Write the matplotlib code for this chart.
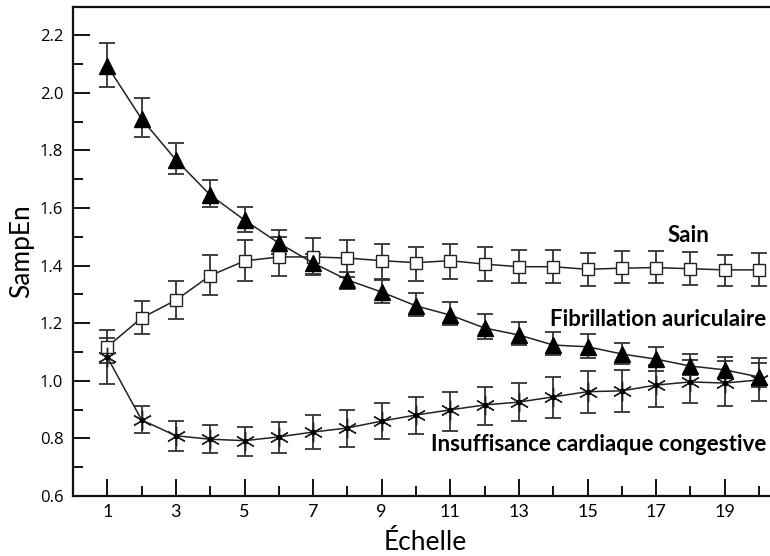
import numpy as np
import matplotlib
matplotlib.use("Agg")
import matplotlib.pyplot as plt
from matplotlib.ticker import MultipleLocator, FixedLocator

scales = np.arange(1, 21)

# Sain (healthy) - open squares
sain = [1.118, 1.218, 1.280, 1.365, 1.416, 1.430, 1.430, 1.426, 1.417, 1.410,
        1.417, 1.405, 1.396, 1.396, 1.387, 1.391, 1.393, 1.389, 1.385, 1.385]
sain_hi = [1.176, 1.277, 1.346, 1.437, 1.489, 1.499, 1.494, 1.489, 1.475, 1.465,
           1.475, 1.463, 1.454, 1.454, 1.443, 1.449, 1.449, 1.446, 1.435, 1.443]
sain_lo = [1.060, 1.162, 1.214, 1.298, 1.346, 1.364, 1.371, 1.360, 1.353, 1.346,
           1.353, 1.347, 1.338, 1.338, 1.329, 1.338, 1.338, 1.332, 1.329, 1.329]

# Fibrillation auriculaire - filled triangles
fa = [2.093, 1.909, 1.767, 1.645, 1.558, 1.478, 1.409, 1.350, 1.308, 1.260,
      1.228, 1.183, 1.159, 1.124, 1.118, 1.093, 1.075, 1.051, 1.038, 1.013]
fa_hi = [2.173, 1.982, 1.826, 1.697, 1.603, 1.524, 1.440, 1.378, 1.350, 1.305,
         1.274, 1.232, 1.204, 1.169, 1.163, 1.131, 1.117, 1.093, 1.083, 1.078]
fa_lo = [2.020, 1.847, 1.718, 1.603, 1.517, 1.440, 1.367, 1.319, 1.270, 1.225,
         1.194, 1.145, 1.124, 1.090, 1.080, 1.058, 1.034, 1.020, 1.010, 0.980]

# Insuffisance cardiaque congestive - asterisks
icc = [1.082, 0.864, 0.809, 0.797, 0.792, 0.805, 0.822, 0.836, 0.860, 0.881,
       0.899, 0.916, 0.926, 0.944, 0.962, 0.965, 0.985, 0.996, 0.992, 1.003]
icc_hi = [1.150, 0.912, 0.860, 0.847, 0.840, 0.857, 0.880, 0.898, 0.922, 0.944,
          0.962, 0.979, 0.993, 1.014, 1.033, 1.037, 1.055, 1.072, 1.069, 1.062]
icc_lo = [0.989, 0.819, 0.757, 0.749, 0.740, 0.748, 0.763, 0.770, 0.797, 0.815,
          0.826, 0.845, 0.859, 0.870, 0.888, 0.892, 0.910, 0.922, 0.913, 0.930]

fig = plt.figure(figsize=(7.7, 5.56), dpi=100)
ax = fig.add_axes([0.0948, 0.108, 0.9052, 0.8795])

def draw(y, lo, hi, **kw):
    y = np.array(y)
    err = [y - np.array(lo), np.array(hi) - y]
    ax.errorbar(scales, y, yerr=err, fmt='none', ecolor='#333333',
                elinewidth=1.3, capsize=6, capthick=1.3, zorder=2)
    ax.plot(scales, y, color='#222222', lw=1.1, zorder=3, **kw)

draw(sain, sain_lo, sain_hi, marker='s', ms=8.5, mfc='white', mec='#222222', mew=1.0)
draw(icc, icc_lo, icc_hi, marker=(6, 2, 0), ms=14, mec='#222222', mew=1.0)
ax.plot(scales, icc, ls='none', marker='o', ms=3, color='black', zorder=4)
draw(fa, fa_lo, fa_hi, marker='^', ms=12, mfc='black', mec='black')

ax.set_xlim(0, 20.32)
ax.set_ylim(0.6, 2.298)
ax.xaxis.set_major_locator(FixedLocator(np.arange(1, 20, 2)))
ax.xaxis.set_minor_locator(FixedLocator(np.arange(2, 21, 2)))
ax.yaxis.set_major_locator(MultipleLocator(0.2))
ax.yaxis.set_minor_locator(MultipleLocator(0.1))
ax.tick_params(which='both', direction='in', width=1.4, color='#111111')
ax.tick_params(which='major', length=12, labelsize=12, pad=7)
ax.tick_params(which='minor', length=7)
ax.tick_params(axis='x', which='major', pad=6)
ax.yaxis.set_major_formatter(matplotlib.ticker.FormatStrFormatter('%.1f'))
for lab in ax.get_yticklabels():
    lab.set_fontfamily('Open Sans')
for lab in ax.get_xticklabels():
    lab.set_fontfamily('Lato')
    lab.set_fontsize(13)

ax.spines['right'].set_visible(False)
for s in ['left', 'bottom', 'top']:
    ax.spines[s].set_linewidth(1.6)
    ax.spines[s].set_color('#111111')

ax.set_xlabel('Échelle', fontfamily='Lato', fontsize=19, va='center')
ax.xaxis.set_label_coords((425 - 73) / 697, (496 - 543) / 489)
ax.set_ylabel('SampEn', fontfamily='Lato', fontsize=19, labelpad=4)

ax.text(17.33, 1.503, 'Sain', fontfamily='Lato', fontweight='bold', fontsize=16,
        ha='left', va='center')
ax.text(20.2, 1.211, 'Fibrillation auriculaire', fontfamily='Lato', fontweight='bold',
        fontsize=16, ha='right', va='center')
ax.text(20.2, 0.777, 'Insuffisance cardiaque congestive', fontfamily='Lato',
        fontweight='bold', fontsize=16, ha='right', va='center')

fig.savefig('out.png', dpi=100)
